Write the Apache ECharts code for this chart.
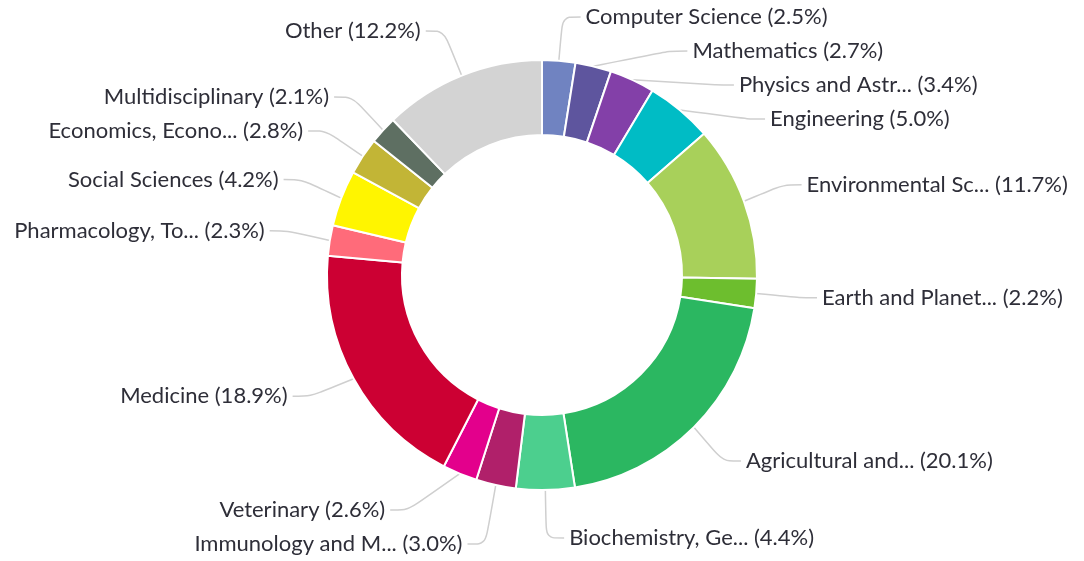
<!DOCTYPE html>
<html>
<head>
<meta charset="utf-8">
<script src="https://cdn.jsdelivr.net/npm/echarts@6/dist/echarts.min.js"></script>
<style>
html,body{margin:0;padding:0;background:#fff;}
#chart{width:1084px;height:561px;}
</style>
</head>
<body>
<div id="chart"></div>
<script>
const categories = [
  "Computer Science", "Mathematics", "Physics and Astr...", "Engineering",
  "Environmental Sc...", "Earth and Planet...", "Agricultural and...", "Biochemistry, Ge...",
  "Immunology and M...", "Veterinary", "Medicine", "Pharmacology, To...",
  "Social Sciences", "Economics, Econo...", "Multidisciplinary", "Other"
];
const values = [2.5, 2.7, 3.4, 5.0, 11.7, 2.2, 20.1, 4.4, 3.0, 2.6, 18.9, 2.3, 4.2, 2.8, 2.1, 12.2];
const colors = [
  "#7083C1", "#5E559E", "#8340A8", "#00BCC5",
  "#A8D05A", "#6DBE2E", "#2BB761", "#4CCF8E",
  "#B0206A", "#E3008C", "#CC0033", "#FF6B7A",
  "#FFF500", "#C2B536", "#5E6F62", "#D3D3D3"
];

const chart = echarts.init(document.getElementById('chart'), null, {renderer: 'canvas'});
chart.setOption({
  animation: false,
  color: colors,
  series: [{
    type: 'pie',
    center: [542, 275],
    radius: [140, 215],
    startAngle: 90,
    clockwise: true,
    avoidLabelOverlap: true,
    itemStyle: {borderColor: '#fff', borderWidth: 2},
    label: {
      formatter: function (p) { return p.name + ' (' + p.value.toFixed(1) + '%)'; },
      fontFamily: 'Lato',
      fontSize: 22,
      lineHeight: 32,
      color: '#2e2e38'
    },
    labelLine: {
      length: 48,
      length2: 18,
      smooth: 0.3,
      lineStyle: {color: '#cfcfcf', width: 1.5}
    },
    data: categories.map((c, i) => ({name: c, value: values[i]}))
  }]
});
</script>
</body>
</html>
